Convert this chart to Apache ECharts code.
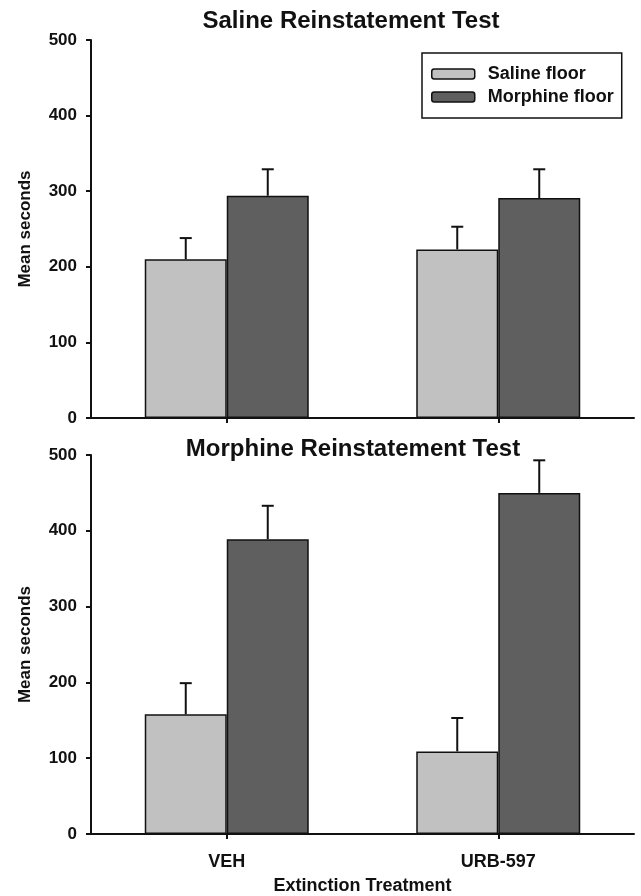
<!DOCTYPE html>
<html>
<head>
<meta charset="utf-8">
<script src="https://cdn.jsdelivr.net/npm/echarts@6/dist/echarts.min.js"></script>
<style>
  html, body { margin: 0; padding: 0; background: #fff; }
  #chart { width: 641px; height: 896px; }
</style>
</head>
<body>
<div id="chart"></div>
<script>
// Extinction treatment groups
const categories = ['VEH', 'URB-597'];
const seriesNames = ['Saline floor', 'Morphine floor'];

// Saline reinstatement test: mean seconds and SEM
const salineTestSaline = [210, 223];
const salineTestSalineErr = [28, 30];
const salineTestMorphine = [294, 291];
const salineTestMorphineErr = [35, 38];

// Morphine reinstatement test: mean seconds and SEM
const morphineTestSaline = [158, 109];
const morphineTestSalineErr = [41, 44];
const morphineTestMorphine = [389, 450];
const morphineTestMorphineErr = [44, 43];

// y axis range
const yMin = 0, yMax = 500, yStep = 100;

const FONT = '"Liberation Sans", Arial, sans-serif';
const INK = '#111';
const LIGHT = '#c1c1c1';
const DARK = '#5f5f5f';
const BAR_W = 82;

const chart = echarts.init(document.getElementById('chart'), null, { renderer: 'canvas' });

function errorBars(means, errs, shift, axisIdx) {
  return {
    type: 'custom',
    xAxisIndex: axisIdx,
    yAxisIndex: axisIdx,
    z: 5,
    silent: true,
    data: means.map((m, i) => [i, m, errs[i]]),
    renderItem(params, api) {
      const base = api.coord([api.value(0), api.value(1)]);
      const top = api.coord([api.value(0), api.value(1) + api.value(2)]);
      const x = base[0] + shift;
      const st = { stroke: INK, lineWidth: 2 };
      return {
        type: 'group',
        children: [
          { type: 'line', shape: { x1: x, y1: base[1], x2: x, y2: top[1] }, style: st },
          { type: 'line', shape: { x1: x - 6, y1: top[1], x2: x + 6, y2: top[1] }, style: st }
        ]
      };
    }
  };
}

function bar(name, values, color, axisIdx) {
  return {
    name: name,
    type: 'bar',
    xAxisIndex: axisIdx,
    yAxisIndex: axisIdx,
    data: values,
    barWidth: BAR_W,
    barGap: '0%',
    itemStyle: { color: color, borderColor: INK, borderWidth: 1.5 },
    emphasis: { disabled: true }
  };
}

function xAxis(gridIdx, showLabels) {
  return {
    type: 'category',
    gridIndex: gridIdx,
    data: categories,
    axisLine: { lineStyle: { color: INK, width: 2 } },
    axisTick: { show: true, alignWithLabel: true, length: 5, lineStyle: { color: INK, width: 2 } },
    axisLabel: {
      show: showLabels, margin: 19,
      fontFamily: FONT, fontWeight: 'bold', fontSize: 18, color: INK
    },
    name: showLabels ? 'Extinction Treatment' : '',
    nameLocation: 'middle',
    nameGap: 43,
    nameTextStyle: { fontFamily: FONT, fontWeight: 'bold', fontSize: 18, color: INK }
  };
}

function yAxis(gridIdx) {
  return {
    type: 'value',
    gridIndex: gridIdx,
    min: yMin, max: yMax, interval: yStep,
    splitLine: { show: false },
    axisLine: { show: true, lineStyle: { color: INK, width: 2 } },
    axisTick: { show: true, length: 5, lineStyle: { color: INK, width: 2 } },
    axisLabel: { margin: 14, fontFamily: FONT, fontWeight: 'bold', fontSize: 17, color: INK },
    name: 'Mean seconds',
    nameLocation: 'middle',
    nameGap: 57,
    nameTextStyle: { fontFamily: FONT, fontWeight: 'bold', fontSize: 17, color: INK }
  };
}

const titleStyle = { fontFamily: FONT, fontWeight: 'bold', fontSize: 24, color: INK };

chart.setOption({
  animation: false,
  backgroundColor: '#fff',
  title: [
    { text: 'Saline Reinstatement Test', left: 346, top: 4, textAlign: 'center', textStyle: titleStyle },
    { text: 'Morphine Reinstatement Test', left: 348, top: 432, textAlign: 'center', textStyle: titleStyle }
  ],
  legend: {
    data: seriesNames,
    orient: 'vertical',
    left: 422,
    top: 53,
    padding: [12, 8, 12, 9],
    itemGap: 5,
    itemWidth: 43,
    itemHeight: 10,
    icon: 'roundRect',
    borderColor: INK,
    borderWidth: 1.5,
    selectedMode: false,
    itemStyle: { borderColor: INK, borderWidth: 1.5 },
    textStyle: {
      fontFamily: FONT, fontWeight: 'bold', fontSize: 18, color: INK,
      lineHeight: 18, padding: [0, 0, 0, 8]
    }
  },
  grid: [
    { left: 91, right: 7, top: 40, height: 378 },
    { left: 91, right: 7, top: 455, height: 379 }
  ],
  xAxis: [xAxis(0, false), xAxis(1, true)],
  yAxis: [yAxis(0), yAxis(1)],
  series: [
    bar(seriesNames[0], salineTestSaline, LIGHT, 0),
    bar(seriesNames[1], salineTestMorphine, DARK, 0),
    errorBars(salineTestSaline, salineTestSalineErr, -BAR_W / 2, 0),
    errorBars(salineTestMorphine, salineTestMorphineErr, BAR_W / 2, 0),
    bar(seriesNames[0], morphineTestSaline, LIGHT, 1),
    bar(seriesNames[1], morphineTestMorphine, DARK, 1),
    errorBars(morphineTestSaline, morphineTestSalineErr, -BAR_W / 2, 1),
    errorBars(morphineTestMorphine, morphineTestMorphineErr, BAR_W / 2, 1)
  ]
});
</script>
</body>
</html>
